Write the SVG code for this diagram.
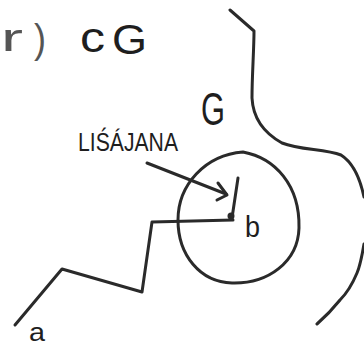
<svg xmlns="http://www.w3.org/2000/svg" width="364" height="347" viewBox="0 0 364 347">
<defs>
<style>
.s{fill:none;stroke:#2a2a2a;stroke-width:3;stroke-linecap:round;stroke-linejoin:round}
.t{font-family:"Liberation Sans",Arial,sans-serif;fill:#1e1e1e}
.g{fill:#555}
</style>
</defs>
<rect width="364" height="347" fill="#fff"/>
<g id="title">
<text class="t g" x="1" y="51" font-size="38" textLength="22" lengthAdjust="spacingAndGlyphs">r</text>
<text class="t g" x="34" y="53" font-size="40" textLength="12" lengthAdjust="spacingAndGlyphs">)</text>
<text class="t" x="80" y="52" font-size="42" textLength="25" lengthAdjust="spacingAndGlyphs">c</text>
<text class="t" x="112" y="54" font-size="43" textLength="35" lengthAdjust="spacingAndGlyphs">G</text>
</g>
<g id="region-G">
<path class="s" d="M230,10 L254,31 C254,50 252,75 252,98 C253,118 264,133 282,143 C300,150 325,149 341,155 C352,162 360,178 364,197"/>
<path class="s" d="M364,244 C362,256 360,266 357,273 C352,285 346,294 340,300 C332,310 325,317 317,324"/>
<text class="t" x="201" y="125" font-size="47" textLength="24" lengthAdjust="spacingAndGlyphs">G</text>
</g>
<g id="disk">
<path class="s" d="M243,152 C275,158 300,185 299,228 C298,262 268,284 232,283 C200,282 178,255 178,220 C178,185 205,155 243,152 Z"/>
</g>
<g id="label">
<text class="t" x="78" y="151" font-size="25" textLength="100" lengthAdjust="spacingAndGlyphs">LIŚÁJANA</text>
</g>
<g id="point-b">
<circle cx="231" cy="216" r="3.5" fill="#2a2a2a"/>
<text class="t" x="245" y="237" font-size="30" textLength="15" lengthAdjust="spacingAndGlyphs">b</text>
</g>
<g id="point-a">
<text class="t" x="29" y="341" font-size="26" textLength="16" lengthAdjust="spacingAndGlyphs">a</text>
</g>
<g id="connectors">
<polyline class="s" points="15,325 62,269 142,292 152,222 233,220"/>
<line class="s" x1="232" y1="218" x2="238" y2="178"/>
<line class="s" x1="147" y1="163" x2="226" y2="194"/>
<polyline class="s" points="218,183 227,195 217,200"/>
</g>
</svg>
